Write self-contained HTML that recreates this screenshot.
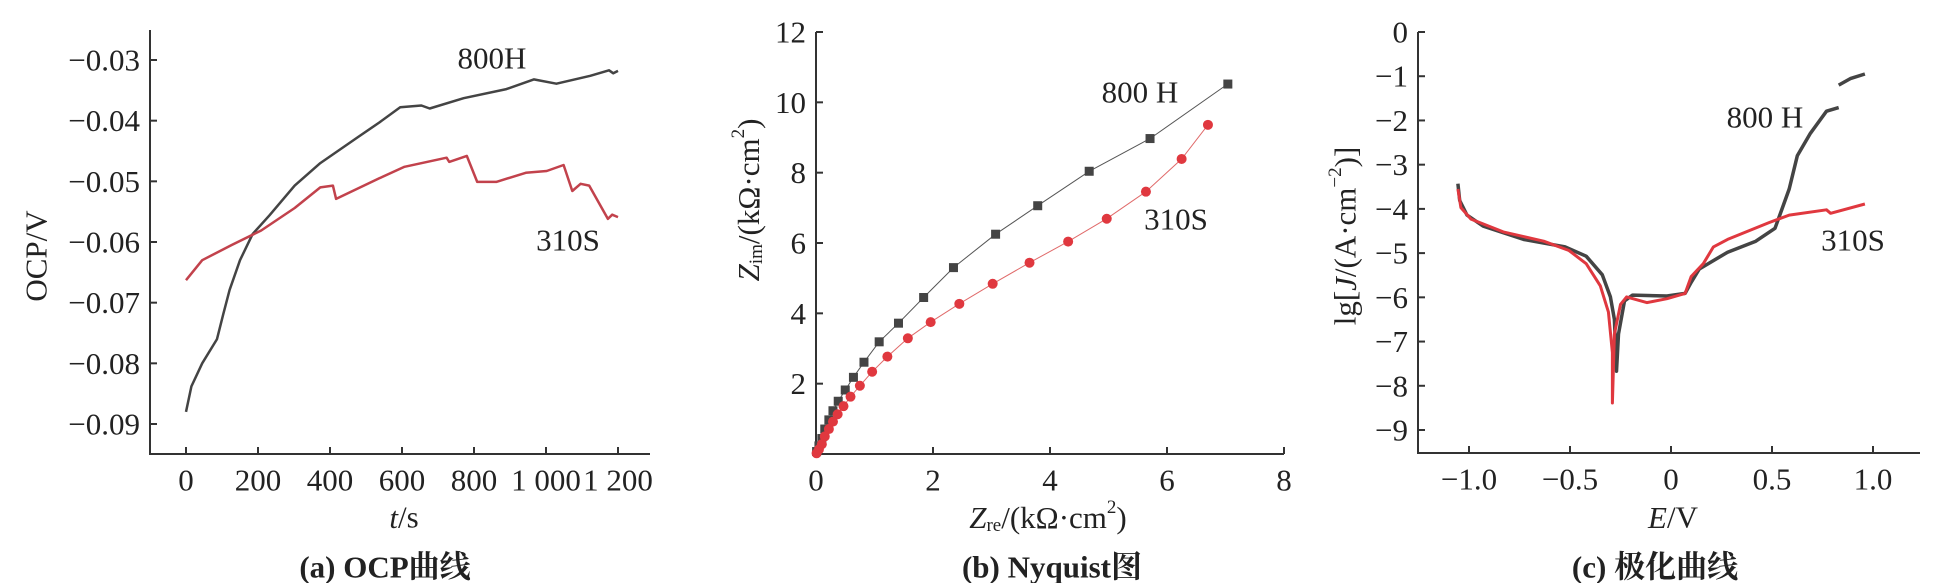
<!DOCTYPE html>
<html><head><meta charset="utf-8">
<style>
html,body{margin:0;padding:0;background:#fff;}
svg{display:block;font-family:"Liberation Serif","Noto Serif CJK SC",serif;}
</style></head>
<body>
<svg id="fig" width="1939" height="583" viewBox="0 0 1939 583" xmlns="http://www.w3.org/2000/svg">
<rect width="1939" height="583" fill="#fff"/>
</svg>
<script>
// ---- Panel (a) OCP data ----
const ocpXTicks = [0,200,400,600,800,1000,1200];
const ocpXTickLabels = ["0","200","400","600","800","1 000","1 200"];
const ocpYTicks = [-0.03,-0.04,-0.05,-0.06,-0.07,-0.08,-0.09];
const ocpYTickLabels = ["−0.03","−0.04","−0.05","−0.06","−0.07","−0.08","−0.09"];
const ocp800T = [0,15,45,86,103,121,150,185,232,302,373,478,537,595,654,677,771,890,966,1029,1123,1175,1187,1200];
const ocp800V = [-0.088,-0.0838,-0.080,-0.076,-0.072,-0.0679,-0.063,-0.0587,-0.0556,-0.0507,-0.047,-0.0427,-0.0403,-0.0378,-0.0375,-0.038,-0.0363,-0.0348,-0.0332,-0.0339,-0.0326,-0.0317,-0.0322,-0.0318];
const ocp310T = [0,45,127,209,302,373,408,417,537,607,724,731,780,809,862,944,1002,1049,1073,1096,1120,1172,1184,1200];
const ocp310V = [-0.0663,-0.063,-0.0605,-0.0581,-0.0544,-0.051,-0.0507,-0.0529,-0.0495,-0.0476,-0.0461,-0.0468,-0.0458,-0.0501,-0.0501,-0.0486,-0.0483,-0.0473,-0.0516,-0.0504,-0.0507,-0.0562,-0.0555,-0.0559];
// ---- Panel (b) Nyquist data ----
const nyqXTicks = [0,2,4,6,8];
const nyqYTicks = [2,4,6,8,10,12];
const nyq800Re = [7.04,5.71,4.67,3.79,3.07,2.35,1.84,1.41,1.08,0.82,0.64,0.50,0.38,0.29,0.22,0.15,0.10,0.05,0.01];
const nyq800Im = [10.52,8.97,8.04,7.06,6.25,5.30,4.45,3.72,3.19,2.61,2.18,1.82,1.50,1.23,0.97,0.71,0.44,0.23,0.07];
const nyq310Re = [6.70,6.25,5.64,4.97,4.31,3.65,3.02,2.45,1.96,1.57,1.22,0.96,0.75,0.59,0.47,0.37,0.29,0.22,0.15,0.10,0.05,0.01];
const nyq310Im = [9.36,8.39,7.46,6.69,6.04,5.44,4.84,4.27,3.75,3.29,2.77,2.34,1.94,1.63,1.36,1.13,0.92,0.71,0.50,0.28,0.13,0.02];
// ---- Panel (c) polarization data ----
const polXTicks = [-1.0,-0.5,0,0.5,1.0];
const polXTickLabels = ["−1.0","−0.5","0","0.5","1.0"];
const polYTicks = [0,-1,-2,-3,-4,-5,-6,-7,-8,-9];
const polYTickLabels = ["0","−1","−2","−3","−4","−5","−6","−7","−8","−9"];
const pol800E = [-1.055,-1.046,-1.01,-0.93,-0.73,-0.525,-0.42,-0.34,-0.30,-0.28,-0.27,-0.26,-0.23,-0.19,-0.02,0.07,0.10,0.14,0.28,0.42,0.515,0.545,0.585,0.625,0.69,0.77,0.83,null,0.83,0.89,0.96];
const pol800J = [-3.43,-3.81,-4.14,-4.39,-4.69,-4.86,-5.07,-5.49,-5.99,-6.50,-7.67,-6.83,-6.08,-5.95,-5.97,-5.91,-5.66,-5.36,-4.98,-4.73,-4.44,-4.06,-3.55,-2.80,-2.29,-1.79,-1.71,null,-1.20,-1.05,-0.95];
const pol310E = [-1.055,-1.04,-0.99,-0.83,-0.63,-0.505,-0.42,-0.35,-0.31,-0.29,-0.29,-0.28,-0.25,-0.22,-0.12,-0.02,0.07,0.10,0.16,0.21,0.28,0.485,0.585,0.77,0.79,0.96];
const pol310J = [-3.55,-3.97,-4.23,-4.52,-4.73,-4.94,-5.24,-5.74,-6.33,-7.25,-8.39,-6.83,-6.16,-5.99,-6.12,-6.03,-5.91,-5.53,-5.24,-4.86,-4.69,-4.31,-4.14,-4.02,-4.10,-3.89];

const FS=31;
const NS="http://www.w3.org/2000/svg";
const svg=document.getElementById('fig');
function mk(tag,attrs,parent){const e=document.createElementNS(NS,tag);for(const k in attrs)e.setAttribute(k,attrs[k]);(parent||svg).appendChild(e);return e;}
function txt(s,x,y,size,anchor,parent,extra){const t=mk('text',Object.assign({x:x,y:y,'font-size':size,'text-anchor':anchor||'middle','dominant-baseline':'central',fill:'#222'},extra||{}),parent);t.textContent=s;return t;}
function lin(a0,a1,p0,p1){return v=>p0+(v-a0)/(a1-a0)*(p1-p0);}

function axes(g,x0,x1,yTop,yBot,xs,ys,xt,xl,yt,yl){
  const ax=mk('path',{d:`M${x0},${yTop}V${yBot}H${x1}`,stroke:'#333','stroke-width':2,fill:'none'},g);
  
  
  xt.forEach((v,i)=>{const X=xs(v);
    const tk=mk('line',{x1:X,x2:X,y1:yBot,y2:yBot-7,stroke:'#333','stroke-width':2},g);
    
    
    const t=txt(xl[i],X,yBot+26,FS,'middle',g);
    
    });
  yt.forEach((v,i)=>{const Y=ys(v);
    const tk=mk('line',{x1:x0,x2:x0+7,y1:Y,y2:Y,stroke:'#333','stroke-width':2},g);
    
    
    const t=txt(yl[i],x0-10,Y,FS,'end',g);
    
    });
}
function pathFrom(xa,ya,xs,ys){let d='',pen=false;for(let i=0;i<xa.length;i++){if(xa[i]===null){pen=false;continue;}d+=(pen?'L':'M')+xs(xa[i]).toFixed(1)+','+ys(ya[i]).toFixed(1);pen=true;}return d;}

// ===== Panel A =====
{const g=mk('g',{});
 const xs=lin(0,1200,186,618), ys=lin(-0.03,-0.09,60,424);
 axes(g,150,650,30,454,xs,ys,ocpXTicks,ocpXTickLabels,ocpYTicks,ocpYTickLabels);
 const p1=mk('path',{d:pathFrom(ocp800T,ocp800V,xs,ys),stroke:'#444','stroke-width':2.5,fill:'none','stroke-linejoin':'round'},g);
 
 const p2=mk('path',{d:pathFrom(ocp310T,ocp310V,xs,ys),stroke:'#c2424c','stroke-width':2.5,fill:'none','stroke-linejoin':'round'},g);
 
 let t=txt('800H',492,58,FS,'middle',g);
 t=txt('310S',568,240,FS,'middle',g);
 t=txt('OCP/V',0,0,FS,'middle',g,{transform:'translate(36,256) rotate(-90)'});
 t=mk('text',{x:404,y:517,'font-size':FS,'text-anchor':'middle','dominant-baseline':'central',fill:'#222'},g);
 t.innerHTML='<tspan font-style="italic">t</tspan>/s';
 t=txt('(a) OCP曲线',385,567,FS,'middle',g,{'font-weight':'bold'});
}
// ===== Panel B =====
{const g=mk('g',{});
 const xs=lin(0,8,816,1284), ys=lin(0,12,454,32);
 axes(g,816,1284,32,454,xs,ys,nyqXTicks,nyqXTicks.map(String),nyqYTicks,nyqYTicks.map(String));
 const l1=mk('path',{d:pathFrom(nyq800Re,nyq800Im,xs,ys),stroke:'#555','stroke-width':1,fill:'none'},g);
 
 const l2=mk('path',{d:pathFrom(nyq310Re,nyq310Im,xs,ys),stroke:'#e06a6a','stroke-width':1,fill:'none'},g);
 
 nyq800Re.forEach((v,i)=>{const m=mk('rect',{x:xs(v)-4.5,y:ys(nyq800Im[i])-4.5,width:9,height:9,fill:'#444'},g);
   });
 nyq310Re.forEach((v,i)=>{const m=mk('circle',{cx:xs(v),cy:ys(nyq310Im[i]),r:5,fill:'#e0383f'},g);
   });
 let t=txt('800 H',1140,92,FS,'middle',g);
 t=txt('310S',1176,219,FS,'middle',g);
 t=mk('text',{'font-size':FS,'text-anchor':'middle','dominant-baseline':'central',fill:'#222',transform:'translate(748,200) rotate(-90)'},g);
 t.innerHTML='<tspan font-style="italic">Z</tspan><tspan font-size="19" dy="8">im</tspan><tspan dy="-8">/(kΩ·cm</tspan><tspan font-size="19" dy="-10">2</tspan><tspan dy="10">)</tspan>';
 
 t=mk('text',{x:1048,y:517,'font-size':FS,'text-anchor':'middle','dominant-baseline':'central',fill:'#222'},g);
 t.innerHTML='<tspan font-style="italic">Z</tspan><tspan font-size="19" dy="8">re</tspan><tspan dy="-8">/(kΩ·cm</tspan><tspan font-size="19" dy="-10">2</tspan><tspan dy="10">)</tspan>';
 
 t=txt('(b) Nyquist图',1052,567,FS,'middle',g,{'font-weight':'bold'});
}
// ===== Panel C =====
{const g=mk('g',{});
 const xs=lin(-1,1,1469,1873), ys=lin(0,-9,32,430);
 axes(g,1418,1920,32,453,xs,ys,polXTicks,polXTickLabels,polYTicks,polYTickLabels);
 const p1=mk('path',{d:pathFrom(pol800E,pol800J,xs,ys),stroke:'#444','stroke-width':3.5,fill:'none','stroke-linejoin':'round'},g);
 
 const p2=mk('path',{d:pathFrom(pol310E,pol310J,xs,ys),stroke:'#e0383f','stroke-width':3,fill:'none','stroke-linejoin':'round'},g);
 
 let t=txt('800 H',1765,117,FS,'middle',g);
 t=txt('310S',1853,240,FS,'middle',g);
 t=mk('text',{'font-size':FS,'text-anchor':'middle','dominant-baseline':'central',fill:'#222',transform:'translate(1345,236) rotate(-90)'},g);
 t.innerHTML='lg[<tspan font-style="italic">J</tspan>/(A·cm<tspan font-size="19" dy="-10">−2</tspan><tspan dy="10">)]</tspan>';
 
 t=mk('text',{x:1673,y:517,'font-size':FS,'text-anchor':'middle','dominant-baseline':'central',fill:'#222'},g);
 t.innerHTML='<tspan font-style="italic">E</tspan>/V';
 t=txt('(c) 极化曲线',1655,567,FS,'middle',g,{'font-weight':'bold'});
}
</script>
</body></html>
